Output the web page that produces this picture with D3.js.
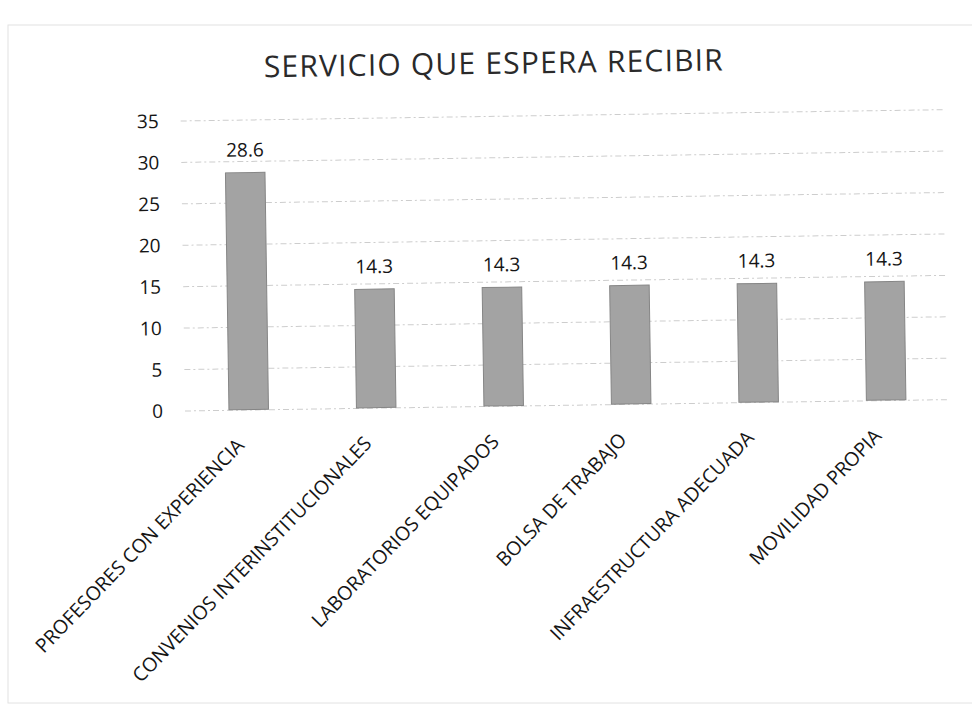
<!DOCTYPE html>
<html>
<head>
<meta charset="utf-8">
<script src="https://cdnjs.cloudflare.com/ajax/libs/d3/7.8.5/d3.min.js"></script>
<style>
  body { margin: 0; background: #fff; }
  text { font-family: "Open Sans", "Noto Sans", sans-serif; fill: #151515; }
  .grid line { stroke: #cdcdcd; stroke-width: 1; stroke-dasharray: 6 3 2 3; }
  .grid path { display: none; }
  .y.axis path, .y.axis line { display: none; }
  .y.axis text { font-size: 19px; }
  .x.axis path, .x.axis line { display: none; }
  .x.axis text { font-size: 19.5px; }
  .bar { fill: #a3a3a3; stroke: #858585; stroke-width: 1; }
  .label { font-size: 19px; text-anchor: middle; }
  .title { font-size: 30px; text-anchor: middle; fill: #2a2a2a; letter-spacing: 1.2px; }
  .frame { fill: none; stroke: #e2e2e2; stroke-width: 1; }
</style>
</head>
<body>
<script>
var categories = ['PROFESORES CON EXPERIENCIA', 'CONVENIOS INTERINSTITUCIONALES', 'LABORATORIOS EQUIPADOS',
                  'BOLSA DE TRABAJO', 'INFRAESTRUCTURA ADECUADA', 'MOVILIDAD PROPIA']
var values = [28.6, 14.3, 14.3, 14.3, 14.3, 14.3]
var yTicks = [0, 5, 10, 15, 20, 25, 30, 35]
var title = 'SERVICIO QUE ESPERA RECIBIR'

var width = 972
var height = 705
var margin = {left:185, right:22, top:116, bottom:299}
var plotW = width - margin.left - margin.right
var plotH = height - margin.top - margin.bottom
var tilt = -0.85   // the scanned page sits slightly askew

var svg = d3.select("body").append("svg").attr("width", width).attr("height", height)

// faint scan frame
svg.append("rect").attr("class","frame")
    .attr("x", 8).attr("y", 25).attr("width", 980).attr("height", 678)

var page = svg.append("g")
    .attr("transform","rotate("+tilt+",486,410)")

var x = d3.scaleBand()
    .domain(categories)
    .range([0, plotW])
    .paddingInner(0.69)
    .paddingOuter(0.345)
var y = d3.scaleLinear()
    .domain([0, 35])
    .range([plotH, 0])

var chartGroup = page.append("g")
    .attr("transform","translate("+margin.left+","+margin.top+")")

//GRID
chartGroup.append("g").attr("class","grid")
    .call(d3.axisLeft(y).tickValues(yTicks).tickSize(-plotW).tickFormat(""))

//Y AXIS
chartGroup.append("g").attr("class","y axis")
    .attr("transform","translate(-19,0)")
    .call(d3.axisLeft(y).tickValues(yTicks).tickSize(0))
    .selectAll("text").attr("dy","0.35em")

//BARS
chartGroup.selectAll("rect.bar")
    .data(values)
    .enter().append("rect")
    .attr("class","bar")
    .attr("x", function(d, i) { return x(categories[i]); })
    .attr("y", function(d) { return y(d); })
    .attr("width", x.bandwidth())
    .attr("height", function(d) { return plotH - y(d); })

//LABELS
chartGroup.append("g").selectAll("text")
    .data(values)
    .enter().append("text")
    .attr("class","label")
    .attr("x", function(d, i) { return x(categories[i]) + x.bandwidth() / 2; })
    .attr("y", function(d) { return y(d) - 16; })
    .text(function(d) { return d.toFixed(1); })

//X AXIS
chartGroup.append("g").attr("class","x axis")
    .attr("transform","translate(0,"+plotH+")")
    .call(d3.axisBottom(x).tickSize(0))
    .selectAll("text")
    .attr("text-anchor","end")
    .attr("x", 0).attr("y", 0).attr("dx", 0).attr("dy", 0)
    .attr("transform","translate(-4,37) rotate(-45)")

//TITLE
page.append("text").attr("class","title")
    .attr("x", 499).attr("y", 74)
    .text(title)
</script>
</body>
</html>
